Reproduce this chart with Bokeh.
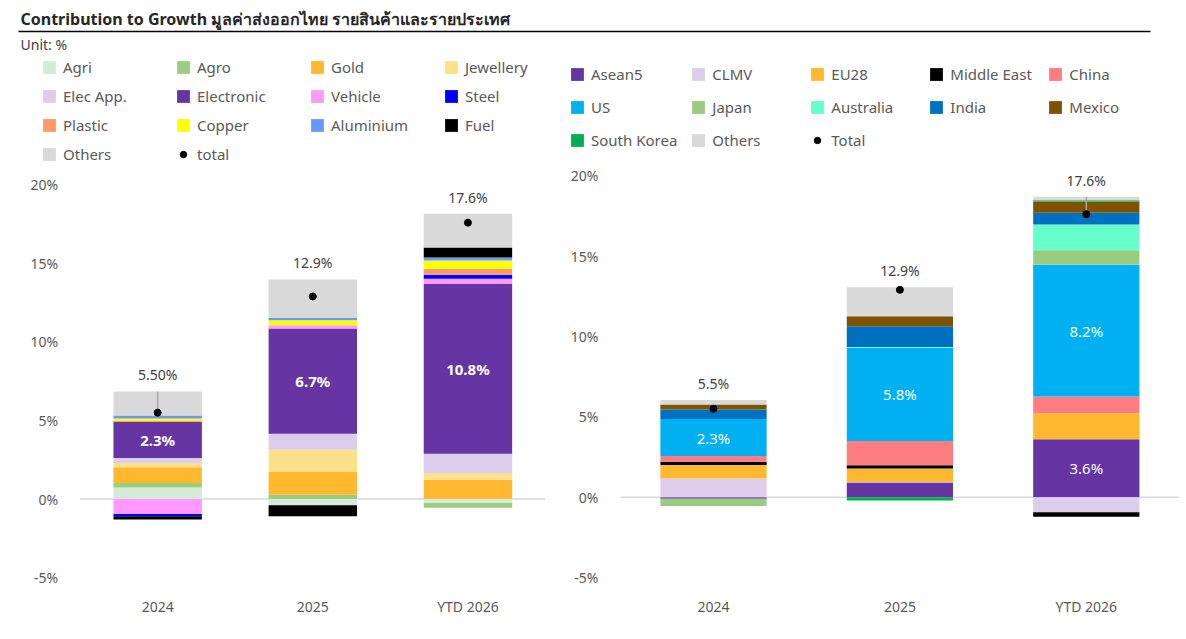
import numpy as np
from bokeh.plotting import figure
from bokeh.models import (Range1d, Legend, LegendItem, FixedTicker,
                          PrintfTickFormatter, ColumnDataSource)
from bokeh.layouts import column, row
from bokeh.embed import file_html
from bokeh.resources import INLINE
from bokeh.core.properties import value

# ---------------- data ----------------
years = ["2024", "2025", "YTD 2026"]

# Contribution by product (% points)
product_names = ["Agri", "Agro", "Gold", "Jewellery", "Elec App.", "Electronic",
                 "Vehicle", "Steel", "Plastic", "Copper", "Aluminium", "Fuel", "Others"]
agri = [0.74, -0.40, -0.25]
agro = [0.28, 0.27, -0.30]
gold = [1.00, 1.45, 1.23]
jewellery = [0.28, 1.42, 0.43]
elec_app = [0.32, 1.02, 1.23]
electronic = [2.30, 6.70, 10.80]
vehicle = [-0.95, 0.20, 0.34]
steel = [-0.15, 0.00, 0.25]
plastic = [0.05, 0.00, 0.38]
copper = [0.15, 0.32, 0.53]
aluminium = [0.20, 0.15, 0.19]
fuel = [-0.20, -0.70, 0.64]
product_others = [1.53, 2.45, 2.15]
product_total = [5.50, 12.9, 17.6]
product_total_labels = ["5.50%", "12.9%", "17.6%"]

# Contribution by market (% points)
market_names = ["Asean5", "CLMV", "EU28", "Middle East", "China", "US", "Japan",
                "Australia", "India", "Mexico", "South Korea", "Others"]
asean5 = [-0.10, 0.92, 3.60]
clmv = [1.17, 0.03, -0.94]
eu28 = [0.83, 0.84, 1.62]
middle_east = [0.20, 0.20, -0.27]
china = [0.36, 1.50, 1.04]
us = [2.30, 5.80, 8.20]
japan = [-0.45, 0.00, 0.90]
australia = [0.00, 0.05, 1.60]
india = [0.60, 1.30, 0.73]
mexico = [0.31, 0.62, 0.70]
south_korea = [0.00, -0.20, 0.08]
market_others = [0.27, 1.80, 0.21]
market_total = [5.5, 12.9, 17.6]
market_total_labels = ["5.5%", "12.9%", "17.6%"]

y_ticks = [-5, 0, 5, 10, 15, 20]

# ---------------- style ----------------
FONT = "Noto Sans"
TEXT = "#595959"
product_colors = ["#d3ecd9", "#9bcd7e", "#ffb830", "#ffe08a", "#dccdec", "#6634a3",
                  "#ff99ff", "#0000ff", "#ff9966", "#ffff00", "#6699ff", "#000000", "#d9d9d9"]
market_colors = ["#6634a3", "#dccdec", "#ffb830", "#000000", "#ff7c80", "#00b0f0",
                 "#99cc80", "#66ffcc", "#0070c0", "#7f5200", "#00b050", "#d9d9d9"]

xpos = np.arange(len(years), dtype=float)   # category slots on the x scale


def make_chart(width, height, x_range, y_range, border_left, border_right, names, series,
               colors, total, total_labels, total_name, label_series, leader, legend_cfg,
               bold_inner):
    p = figure(width=width, height=height, x_range=x_range, y_range=y_range,
               toolbar_location=None, output_backend="svg",
               min_border_left=border_left, min_border_right=border_right,
               min_border_top=0, min_border_bottom=45)
    p.outline_line_color = None
    p.xgrid.visible = False
    p.ygrid.visible = False
    p.xaxis.ticker = FixedTicker(ticks=list(xpos))
    p.xaxis.major_label_overrides = {float(i): y for i, y in zip(xpos, years)}
    p.yaxis.ticker = FixedTicker(ticks=y_ticks)
    p.yaxis.formatter = PrintfTickFormatter(format="%d%%")
    p.yaxis.fixed_location = xpos[0] - 0.5
    for ax in (p.xaxis[0], p.yaxis[0]):
        ax.axis_line_color = None
        ax.major_tick_line_color = None
        ax.minor_tick_line_color = None
        ax.major_tick_out = 0
        ax.major_tick_in = 0
        ax.major_label_text_font = FONT
        ax.major_label_text_font_size = "14px"
        ax.major_label_text_color = TEXT
    p.yaxis.major_label_standoff = 22
    p.xaxis.major_label_standoff = 2

    # zero line across the category area
    p.segment(x0=[xpos[0] - 0.5], y0=[0], x1=[xpos[-1] + 0.5], y1=[0],
              line_color="#d9d9d9", line_width=1.5)

    pos = np.zeros(len(years))
    neg = np.zeros(len(years))
    items = []
    inner_x, inner_y, inner_t = [], [], []
    for name, vals, col in zip(names, series, colors):
        v = np.array(vals, dtype=float)
        bottom = np.where(v >= 0, pos, neg)
        top = bottom + v
        pos = np.where(v >= 0, top, pos)
        neg = np.where(v < 0, top, neg)
        src = ColumnDataSource(dict(x=xpos, bottom=bottom, top=top))
        r = p.vbar(x="x", bottom="bottom", top="top", width=0.57, source=src,
                   fill_color=col, line_color=None)
        items.append(LegendItem(label=name, renderers=[r]))
        if name in label_series:
            for i, val in enumerate(v):
                if val >= 2:
                    inner_x.append(xpos[i])
                    inner_y.append((bottom[i] + top[i]) / 2)
                    inner_t.append(f"{val:.1f}%")

    p.text(x=inner_x, y=inner_y, text=inner_t, text_align="center", text_baseline="middle",
           text_color="white", text_font=value(FONT), text_font_size="15px",
           text_font_style="bold" if bold_inner else "normal")

    # leader lines from total dot to bar top
    sel = [i for i in range(len(years)) if leader[i]]
    p.segment(x0=xpos[sel], y0=[total[i] for i in sel], x1=xpos[sel], y1=pos[sel],
              line_color="#a6a6a6", line_width=1.5)

    dots = p.scatter(x=xpos, y=total, size=7, color="black")
    items.append(LegendItem(label=total_name, renderers=[dots]))

    p.text(x=xpos, y=list(pos), text=total_labels, text_align="center",
           text_baseline="bottom", y_offset=-7, text_color="#404040",
           text_font=value(FONT), text_font_size="14px")

    leg = Legend(items=items, orientation="horizontal", margin=0, padding=0,
                 border_line_color=None, background_fill_alpha=0,
                 glyph_width=16, glyph_height=16, label_height=20, label_standoff=6,
                 label_text_font=FONT, label_text_font_size="15px", label_text_color=TEXT,
                 **legend_cfg)
    p.add_layout(leg, "center")
    return p


# left: frame 25..545 px (155 px per category), zero at 498.5 px, 15.7 px per %
left = make_chart(555, 583, Range1d(-0.852, 2.5), Range1d(-6.08, 28.18), 25, 10,
                  product_names,
                  [agri, agro, gold, jewellery, elec_app, electronic, vehicle, steel,
                   plastic, copper, aluminium, fuel, product_others],
                  product_colors, product_total, product_total_labels, "total",
                  ["Electronic"], [True, False, False],
                  dict(ncols=4, label_width=103, spacing=9, location=(16, 430)), True)

# right: frame 565..1179 px (186.5 px per category), zero at 496.7 px, 16.08 px per %
right = make_chart(631, 583, Range1d(-0.794, 2.5), Range1d(-6.05, 27.41), 10, 7,
                   market_names,
                   [asean5, clmv, eu28, middle_east, china, us, japan, australia, india,
                    mexico, south_korea, market_others],
                   market_colors, market_total, market_total_labels, "Total",
                   ["US", "Asean5"], [False, False, True],
                   dict(ncols=5, label_width=84, spacing=13, location=(4, 444)), False)

# ---------------- header ----------------
hdr = figure(width=1186, height=56, x_range=Range1d(0, 1186), y_range=Range1d(56, 0),
             toolbar_location=None, output_backend="svg", min_border=0,
             x_axis_location=None, y_axis_location=None)
hdr.outline_line_color = None
hdr.xgrid.visible = False
hdr.ygrid.visible = False
hdr.text(x=[20], y=[18], text=["Contribution to Growth มูลค่าส่งออกไทย รายสินค้าและรายประเทศ"],
         text_baseline="middle", text_color="#262626", text_font=value(FONT),
         text_font_size="16px", text_font_style="bold")
hdr.segment(x0=[18], y0=[31], x1=[1150], y1=[31], line_color="black", line_width=1.5)
hdr.text(x=[20], y=[44], text=["Unit: %"], text_baseline="middle", text_color="#404040",
         text_font=value(FONT), text_font_size="14px")

layout = column(hdr, row(left, right))
open("out.html", "w").write(file_html(layout, INLINE))
